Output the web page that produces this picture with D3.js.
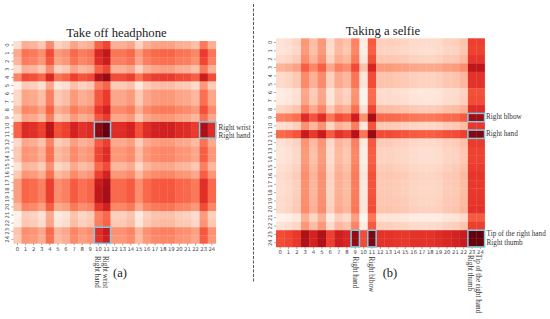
<!DOCTYPE html>
<html lang="en">

<head>
    <meta charset="UTF-8">
    <title>Take off headphone / Taking a selfie</title>
    <script src="https://cdn.jsdelivr.net/npm/d3@7/dist/d3.min.js"></script>
    <style>
        html, body { margin: 0; padding: 0; background: #fff; }
        svg { display: block; }
        .note { font-family: "Liberation Serif", serif; font-size: 7.2px; fill: #333; }
        .title { font-family: "Liberation Serif", serif; font-size: 12.7px; fill: #222; text-anchor: middle; }
        .tag { font-family: "Liberation Serif", serif; font-size: 12.5px; fill: #222; text-anchor: middle; }
        .tick text { font-family: "DejaVu Sans", sans-serif; font-size: 5.3px; fill: #444; }
        .tick line { stroke: #555; stroke-width: 0.5; }
    </style>
</head>

<body>
    <svg id="chart" width="550" height="319"></svg>
    <script>
        var tickLabels = d3.range(25).map(String);

        // values, 0-100 on the Reds scale, one line per row
        var headphoneCells = [
            [12,29,27,21,40,17,21,32,26,29,52,60,28,28,32,17,28,32,33,33,29,28,23,45,28],
            [30,47,45,39,58,35,39,50,44,47,70,78,46,46,50,35,46,50,51,51,47,46,41,63,46],
            [27,44,42,36,55,32,36,47,41,44,67,75,43,43,47,32,43,47,48,48,44,43,38,60,43],
            [12,29,27,21,40,17,21,32,26,29,52,60,28,28,32,17,28,32,33,33,29,28,23,45,28],
            [42,59,57,51,70,47,51,62,56,59,82,90,58,58,62,47,58,62,63,63,59,58,53,75,58],
            [3,20,18,12,31,8,12,23,17,20,43,51,19,19,23,8,19,23,24,24,20,19,14,36,19],
            [15,32,30,24,43,20,24,35,29,32,55,63,31,31,35,20,31,35,36,36,32,31,26,48,31],
            [15,32,30,24,43,20,24,35,29,32,55,63,31,31,35,20,31,35,36,36,32,31,26,48,31],
            [24,41,39,33,52,29,33,44,38,41,64,72,40,40,44,29,40,44,45,45,41,40,35,57,40],
            [15,32,30,24,43,20,24,35,29,32,55,63,31,31,35,20,31,35,36,36,32,31,26,48,31],
            [52,69,67,61,80,57,61,72,66,69,92,100,68,68,72,57,68,72,73,73,69,68,63,85,68],
            [52,69,67,61,80,57,61,72,66,69,92,100,68,68,72,57,68,72,73,73,69,68,63,85,68],
            [14,31,29,23,42,19,23,34,28,31,54,62,30,30,34,19,30,34,35,35,31,30,25,47,30],
            [20,37,35,29,48,25,29,40,34,37,60,68,36,36,40,25,36,40,41,41,37,36,31,53,36],
            [20,37,35,29,48,25,29,40,34,37,60,68,36,36,40,25,36,40,41,41,37,36,31,53,36],
            [10,27,25,19,38,15,19,30,24,27,50,58,26,26,30,15,26,30,31,31,27,26,21,43,26],
            [20,37,35,29,48,25,29,40,34,37,62,72,36,36,40,25,36,40,41,41,37,36,31,53,36],
            [34,51,49,43,62,39,43,54,48,51,76,84,50,50,54,39,50,54,55,55,51,50,45,67,50],
            [34,51,49,43,62,39,43,54,48,51,78,86,50,50,54,39,50,54,55,55,51,50,45,67,50],
            [34,51,49,43,62,39,43,54,48,51,78,86,50,50,54,39,50,54,55,55,51,50,45,67,50],
            [25,42,40,34,53,30,34,45,39,42,65,73,41,41,45,30,41,45,46,46,42,41,36,58,41],
            [2,19,17,11,30,7,11,22,16,19,42,50,18,18,22,7,18,22,23,23,19,18,13,35,18],
            [4,21,19,13,32,9,13,24,18,21,44,52,20,20,24,9,20,24,25,25,21,20,15,37,20],
            [22,39,37,31,50,27,31,42,36,39,68,76,38,38,42,27,38,42,43,43,39,38,33,55,38],
            [20,37,35,29,48,25,29,40,34,37,66,74,36,36,40,25,36,40,41,41,37,36,31,53,36]
        ];

        var selfieCells = [
            [10,12,16,36,24,36,14,26,22,42,6,54,18,18,17,16,14,13,13,14,17,18,22,62,62],
            [9,11,15,35,23,35,13,25,21,41,5,53,17,17,16,15,13,12,12,13,16,17,21,61,61],
            [13,15,19,39,27,39,17,29,25,45,9,57,21,21,20,19,17,16,16,17,20,21,25,65,65],
            [27,29,33,53,41,53,31,43,39,59,23,71,35,35,34,33,31,30,30,31,34,35,39,79,79],
            [14,16,20,40,28,40,18,30,26,46,10,58,22,22,21,20,18,17,17,18,21,22,26,66,66],
            [14,16,20,40,28,40,18,30,26,46,10,58,22,22,21,20,18,17,17,18,21,22,26,66,66],
            [5,7,11,31,19,31,9,21,17,37,1,49,13,13,12,11,9,8,8,9,12,13,17,57,57],
            [6,8,12,32,20,32,10,22,18,38,2,50,14,14,13,12,10,9,9,10,13,14,18,58,58],
            [16,18,22,42,30,42,20,32,28,48,12,60,24,24,23,22,20,19,19,20,23,24,28,68,68],
            [42,44,48,68,56,68,46,58,54,74,38,86,50,50,49,48,46,45,45,46,49,50,54,88,88],
            [12,14,18,38,26,38,16,28,24,44,8,56,20,20,19,18,16,15,15,16,19,20,24,64,64],
            [50,52,56,76,64,76,54,66,62,82,46,90,58,58,57,56,54,53,53,54,57,58,62,94,94],
            [11,13,17,37,25,37,15,27,23,43,7,55,19,19,18,17,15,14,14,15,18,19,23,63,63],
            [9,11,15,35,23,35,13,25,21,41,5,53,17,17,16,15,13,12,12,13,16,17,21,61,61],
            [9,11,15,35,23,35,13,25,21,41,5,53,17,17,16,15,13,12,12,13,16,17,21,61,61],
            [11,13,17,37,25,37,15,27,23,43,7,55,19,19,18,17,15,14,14,15,18,19,23,63,63],
            [13,15,19,39,27,39,17,29,25,45,9,57,21,21,20,19,17,16,16,17,20,21,25,65,65],
            [12,14,18,38,26,38,16,28,24,44,8,56,20,20,19,18,16,15,15,16,19,20,24,64,64],
            [12,14,18,38,26,38,16,28,24,44,8,56,20,20,19,18,16,15,15,16,19,20,24,64,64],
            [13,15,19,39,27,39,17,29,25,45,9,57,21,21,20,19,17,16,16,17,20,21,25,65,65],
            [14,16,20,40,28,40,18,30,26,46,10,58,22,22,21,20,18,17,17,18,21,22,26,66,66],
            [2,4,8,28,16,28,6,18,14,34,0,46,10,10,9,8,6,5,5,6,9,10,14,54,54],
            [10,12,16,36,24,36,14,26,22,42,6,54,18,18,17,16,14,13,13,14,17,18,22,62,62],
            [58,60,64,84,72,84,62,74,70,90,58,95,66,66,65,64,66,66,66,68,70,72,76,100,100],
            [58,60,64,84,72,84,62,74,70,90,58,95,66,66,65,64,66,66,66,68,70,72,76,100,100]
        ];

        // highlighted blocks as [first col, first row, last col, last row]
        var headphoneBoxes = [[10, 10, 11, 11], [23, 10, 24, 11], [10, 23, 11, 24]];
        var selfieBoxes = [[23, 9, 24, 9], [23, 11, 24, 11], [9, 23, 9, 24], [11, 23, 11, 24], [23, 23, 24, 24]];

        var svg = d3.select("#chart");
        var color = d3.scaleSequential(d3.interpolateReds).domain([0, 100]);

        function drawHeatmap(cells, boxes, left, top, size) {
            var x = d3.scaleBand().domain(tickLabels).range([left, left + size]);
            var y = d3.scaleBand().domain(tickLabels).range([top, top + size]);
            var g = svg.append("g");

            cells.forEach(function (row, i) {
                g.selectAll(null)
                    .data(row)
                    .enter().append("rect")
                    .attr("x", function (d, j) { return x(tickLabels[j]); })
                    .attr("y", y(tickLabels[i]))
                    .attr("width", x.bandwidth() + 0.3)
                    .attr("height", y.bandwidth() + 0.3)
                    .attr("fill", function (d) { return color(d); });
            });

            g.append("g")
                .attr("transform", "translate(0," + (top + size) + ")")
                .call(d3.axisBottom(x).tickSize(2).tickPadding(1.5))
                .call(function (a) { a.select(".domain").remove(); });

            g.append("g")
                .attr("transform", "translate(" + left + ",0)")
                .call(d3.axisLeft(y).tickSize(2).tickPadding(1.5))
                .call(function (a) { a.select(".domain").remove(); })
                .selectAll("text")
                .attr("text-anchor", "middle")
                .attr("x", 0).attr("dy", 0)
                .attr("transform", "translate(-4.5,0) rotate(-90)");

            g.selectAll(".box")
                .data(boxes)
                .enter().append("rect")
                .attr("class", "box")
                .attr("x", function (b) { return x(tickLabels[b[0]]); })
                .attr("y", function (b) { return y(tickLabels[b[1]]); })
                .attr("width", function (b) { return x(tickLabels[b[2]]) + x.bandwidth() - x(tickLabels[b[0]]); })
                .attr("height", function (b) { return y(tickLabels[b[3]]) + y.bandwidth() - y(tickLabels[b[1]]); })
                .attr("fill", "none")
                .attr("stroke", "#7fcbe3")
                .attr("stroke-width", 1.5);
        }

        function sideNote(text, px, py) {
            svg.append("text").attr("class", "note").attr("x", px).attr("y", py).text(text);
        }

        function downNote(text, px, py) {
            svg.append("text").attr("class", "note")
                .attr("transform", "translate(" + px + "," + py + ") rotate(90)")
                .text(text);
        }

        drawHeatmap(headphoneCells, headphoneBoxes, 13.4, 41, 202.4);
        drawHeatmap(selfieCells, selfieBoxes, 276, 38.3, 208.6);

        svg.append("text").attr("class", "title").attr("x", 116.5).attr("y", 37).text("Take off headphone");
        svg.append("text").attr("class", "title").attr("x", 383).attr("y", 35).text("Taking a selfie");

        svg.append("line")
            .attr("x1", 253.5).attr("x2", 253.5).attr("y1", 4).attr("y2", 283)
            .attr("stroke", "#444").attr("stroke-width", 0.9).attr("stroke-dasharray", "3,1.5");

        sideNote("Right wrist", 218.5, 129.5);
        sideNote("Right hand", 218.5, 138);
        downNote("Right wrist", 102.5, 256);
        downNote("Right hand", 94.5, 256);

        sideNote("Right blbow", 486, 119);
        sideNote("Right hand", 486, 135.5);
        sideNote("Tip of the right hand", 486.5, 236);
        sideNote("Right thumb", 486.5, 244.5);
        downNote("Right hand", 352.5, 256.5);
        downNote("Right blbow", 369, 256.5);
        downNote("Right thumb", 467.5, 255);
        downNote("Tip of the right hand", 476, 254);

        svg.append("text").attr("class", "tag").attr("x", 120).attr("y", 277).text("(a)");
        svg.append("text").attr("class", "tag").attr("x", 390).attr("y", 277).text("(b)");
    </script>
</body>

</html>
